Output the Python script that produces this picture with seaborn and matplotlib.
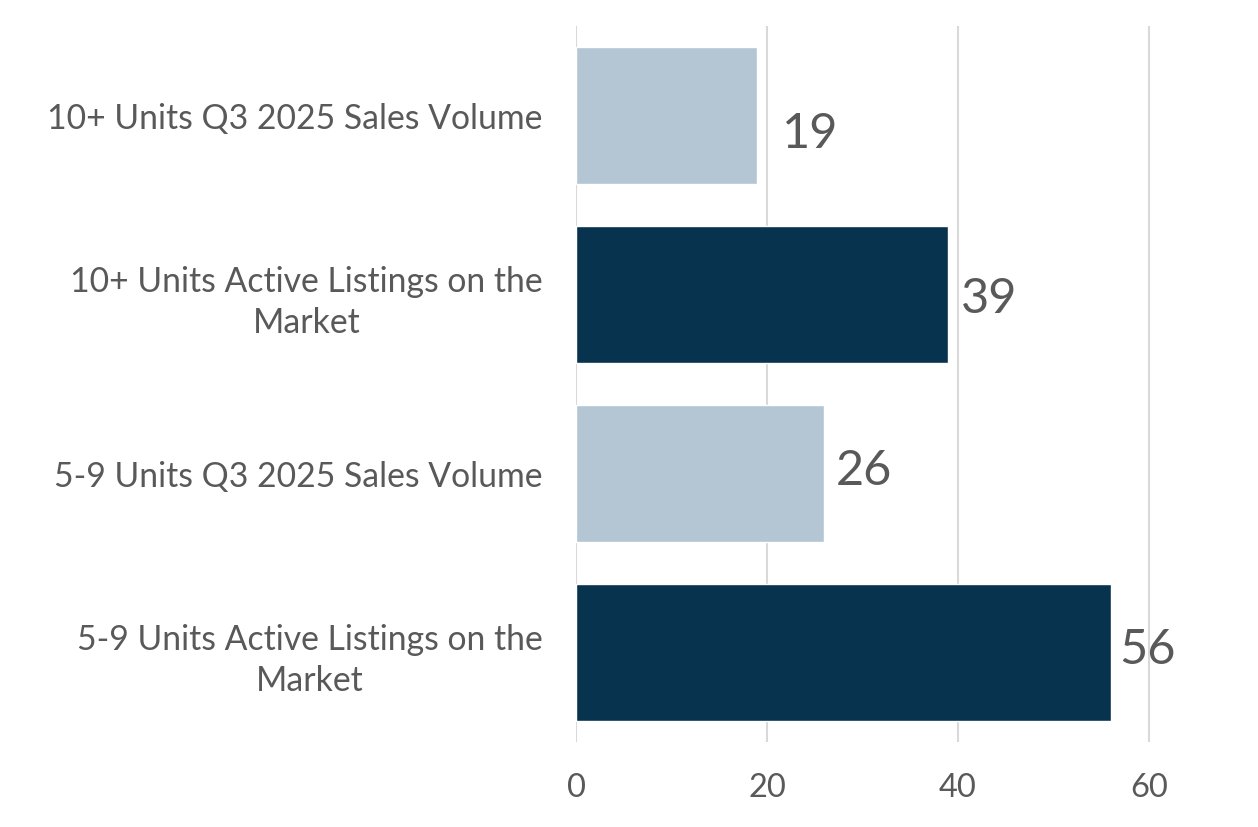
import matplotlib
matplotlib.use("Agg")
import matplotlib.pyplot as plt
import seaborn as sns
import pandas as pd

categories = [
    "10+ Units Q3 2025 Sales Volume",
    "10+ Units Active Listings on the\nMarket",
    "5-9 Units Q3 2025 Sales Volume",
    "5-9 Units Active Listings on the\nMarket",
]
values = [19, 39, 26, 56]
bar_colors = ["#B4C5D3", "#08334F", "#B4C5D3", "#08334F"]
x_ticks = [0, 20, 40, 60]

# label offsets (points) from bar end, as placed in the original
label_offsets = [(18, -13), (9, -3), (8, 2), (6, 2)]

sns.set_theme(style="white")
plt.rcParams["font.family"] = ["Lato", "DejaVu Sans"]

df = pd.DataFrame({"category": categories, "value": values})

fig = plt.figure(figsize=(12.58, 8.27), dpi=100)
ax = fig.add_axes([576 / 1258, 1 - 742 / 827, (1187 - 576) / 1258, (742 - 26) / 827])

sns.barplot(data=df, x="value", y="category", hue="category",
            palette=bar_colors, width=0.765, ax=ax, legend=False,
            saturation=1, zorder=3)

ax.set_xlim(0, 64)
ax.set_xticks(x_ticks)
ax.set_xticklabels([str(t) for t in x_ticks])
ax.grid(axis="x", color="#D9D9D9", linewidth=1.5, zorder=0)
ax.grid(axis="y", visible=False)
for s in ax.spines.values():
    s.set_visible(False)

ax.set_xlabel("")
ax.set_ylabel("")
ax.tick_params(axis="x", length=0, pad=22, labelsize=23.5, labelcolor="#595959")
ax.tick_params(axis="y", length=0, pad=24, labelsize=24.3, labelcolor="#595959")
for lbl in ax.get_yticklabels():
    lbl.set_multialignment("center")
    lbl.set_linespacing(1.35)

for i, v in enumerate(values):
    dx, dy = label_offsets[i]
    ax.annotate(str(v), xy=(v, i), xytext=(dx, dy), textcoords="offset points",
                ha="left", va="center", fontsize=35, color="#595959")

fig.savefig("out.png", dpi=100, facecolor="white")
